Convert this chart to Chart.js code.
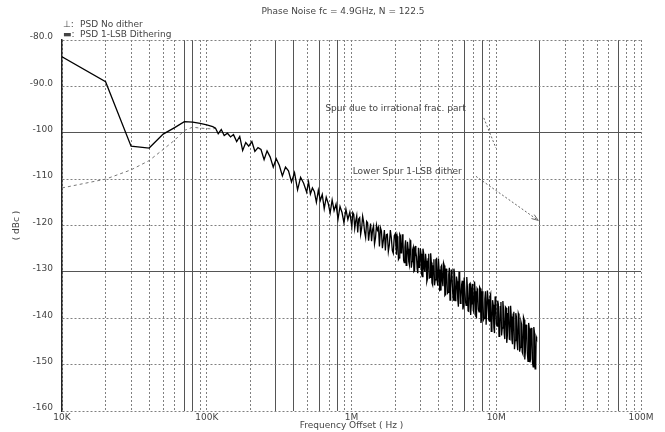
<!DOCTYPE html>
<html><head><meta charset="utf-8">
<script src="https://cdn.jsdelivr.net/npm/chart.js@4.4.1/dist/chart.umd.min.js"></script>
<style>html,body{margin:0;padding:0;background:#fff}#wrap{width:665px;height:432px;position:relative}</style>
</head><body><div id="wrap"><canvas id="c" width="665" height="432"></canvas></div>
<script>
const chartTitle = 'Phase Noise fc = 4.9GHz, N = 122.5';
const legendSymbols = ['\u22A5:', '\u25AC:'];
const legendLabels = ['PSD No dither', 'PSD 1-LSB Dithering'];
const xAxisTitle = 'Frequency Offset ( Hz )';
const yAxisTitle = '( dBc )';

const xTickValues = [10e3,20e3,30e3,40e3,50e3,60e3,70e3,80e3,90e3,
  100e3,200e3,300e3,400e3,500e3,600e3,700e3,800e3,900e3,
  1e6,2e6,3e6,4e6,5e6,6e6,7e6,8e6,9e6,
  10e6,20e6,30e6,40e6,50e6,60e6,70e6,80e6,90e6,100e6];
const xLabelValues = [10e3, 100e3, 1e6, 10e6, 100e6];
const xLabelTexts = ['10K', '100K', '1M', '10M', '100M'];
const xSolidGrid = [70e3, 80e3, 300e3, 400e3, 600e3, 800e3, 6e6, 8e6, 20e6, 70e6];

const yTickValues = [-160,-150,-140,-130,-120,-110,-100,-90,-80];
const yTickLabels = ['-160','-150','-140','-130','-120','-110','-100','-90.0','-80.0'];
const ySolidGrid = [-100, -130];

// PSD No dither (kHz, dBc)
const noDitherFreqKHz = [10,20,30,40,50,60,70,80,90,100,110,115];
const noDitherDbc = [-111.9,-110.0,-108.0,-106.0,-103.6,-101.6,-99.5,-98.8,-99.0,-99.1,-99.2,-99.0];

// PSD 1-LSB Dithering (kHz, dBc)
const ditherFreqKHz = [
  10,20,30,40,50,60,70,80,90,100,110,
  115,120,126,132,139,146,153,161,169,177,
  186,195,205,215,226,237,249,261,274,288,
  302,317,333,350,367,385,404,424,445,467,490,
  505,520,537,554,572,590,609,628,648,669,
  690,712,735,758,782,807,833,860,887,915,
  944,974,
  1005,1021,1037,1053,1070,1087,1104,1121,1139,1157,
  1175,1194,1213,1232,1252,1272,1292,1312,1333,1354,
  1376,1398,1420,1442,1465,1488,1512,1536,1560,1585,
  1610,1635,1661,1687,1714,1741,1769,1797,1826,1855,
  1884,1914,1944,1975,
  2006,2027,2048,2069,2090,2111,2133,2155,2177,2199,
  2222,2245,2268,2291,2315,2339,2363,2387,2412,2437,
  2462,2487,2513,2539,2565,2591,2618,2645,2672,2699,
  2727,2755,2783,2812,2841,2870,2900,2930,2960,2990,
  3021,3052,3084,3116,3148,3180,3213,3246,3280,3314,
  3348,3382,3417,3452,3488,3524,3560,3597,3634,3671,
  3709,3747,3786,3825,3865,3905,3945,3986,4027,4068,
  4110,4152,4195,4238,4282,4326,4371,4416,4462,4508,
  4554,4601,4648,4696,4744,4793,4843,4893,4943,4994,
  5045,5097,5150,5203,5257,5311,5365,5420,5476,5533,
  5590,5648,5706,5765,5824,5884,5945,6006,6068,6131,
  6194,6258,6322,6387,6453,6520,6587,6655,6723,6793,
  6863,6934,7005,7077,7150,7224,7298,7373,7449,7526,
  7604,7682,7761,7841,7922,8004,8086,8170,8254,8339,
  8425,8512,8599,8688,8777,8868,8959,9052,9145,9239,
  9334,9431,9528,9626,9725,9825,9926,10029,10132,10237,
  10342,10449,10556,10665,10775,10886,10998,11112,11226,11342,
  11458,11576,11695,11816,11938,12061,12185,12311,12437,12566,
  12695,12826,12958,13092,13226,13363,13500,13640,13780,13922,
  14065,14211,14357,14505,14654,14806,14958,15113,15268,15426,
  15584,15745,15907,16071,16236,16404,16573,16744,16916,17091,
  17266,17445,17624,17806,17989,18175,18362,18552,18742,18870,
  19000
];
const ditherDbc = [
  -83.6,-89.0,-102.9,-103.3,-100.3,-98.9,-97.6,-97.7,-98.0,-98.3,-98.7,
  -99.0,-100.2,-99.3,-100.6,-100.1,-100.9,-100.4,-101.9,-100.8,-103.8,
  -102.1,-102.9,-101.9,-104.0,-103.2,-103.6,-105.8,-103.9,-105.2,-107.4,
  -105.6,-107.0,-109.3,-107.4,-108.2,-110.6,-108.6,-112.3,-109.6,-110.9,-112.8,
  -110.6,-113.2,-111.9,-112.7,-115.0,-112.4,-114.6,-113.3,-116.4,-113.9,
  -115.2,-117.3,-114.5,-116.8,-115.4,-118.6,-115.9,-117.2,-119.4,-116.5,
  -118.7,-117.1,
  -120.3,-117.2,-117.6,-120.6,-119.0,-117.9,-121.5,-118.6,-118.3,-121.9,
  -120.6,-118.0,-119.2,-121.4,-122.6,-119.1,-119.4,-123.3,-121.3,-119.6,
  -123.4,-120.9,-120.1,-124.0,-122.7,-119.9,-121.0,-120.4,-124.5,-120.5,
  -121.2,-124.9,-123.1,-121.0,-125.4,-122.0,-121.9,-125.6,-124.2,-121.0,
  -122.6,-125.4,-126.0,-122.2,
  -121.8,-124.4,-126.3,-122.3,-123.0,-127.3,-127.0,-121.9,-122.2,-125.9,
  -125.8,-121.9,-123.4,-127.5,-128.0,-124.7,-123.2,-128.6,-127.4,-123.5,
  -125.0,-127.8,-128.5,-123.2,-123.5,-129.1,-127.8,-125.2,-124.7,-129.9,
  -129.7,-124.4,-125.7,-126.7,-129.3,-130.3,-124.8,-129.0,-128.5,-124.9,
  -126.1,-130.5,-131.0,-125.0,-125.9,-129.3,-130.0,-126.1,-127.6,-132.1,
  -131.5,-127.2,-126.1,-131.3,-131.2,-126.0,-128.0,-132.4,-132.8,-128.7,
  -127.3,-132.9,-131.7,-127.4,-127.2,-131.9,-133.0,-127.1,-129.5,-134.0,
  -133.9,-128.9,-128.6,-131.9,-133.1,-128.1,-128.6,-135.1,-134.9,-129.3,
  -130.3,-134.6,-134.4,-130.6,-129.1,-136.1,-133.6,-129.5,-130.6,-134.1,
  -136.1,-129.3,-130.3,-136.2,-135.3,-131.0,-132.0,-135.9,-137.5,-130.0,
  -130.8,-136.8,-135.7,-132.8,-131.9,-138.1,-137.3,-131.2,-131.2,-136.4,
  -137.2,-131.1,-133.3,-138.4,-138.5,-132.7,-132.5,-139.3,-136.9,-133.6,
  -132.6,-138.3,-138.7,-132.1,-134.2,-139.6,-139.8,-133.6,-133.9,-138.1,
  -138.6,-133.3,-133.6,-141.0,-140.1,-134.2,-135.8,-140.3,-140.0,-135.9,
  -134.2,-141.4,-141.4,-134.0,-135.9,-140.3,-140.6,-135.3,-134.8,-142.8,
  -141.6,-136.1,-137.1,-142.0,-143.2,-135.3,-136.1,-141.3,-141.7,-136.2,
  -137.0,-143.9,-143.5,-137.5,-136.5,-143.7,-142.1,-136.3,-138.2,-143.2,
  -144.5,-137.6,-137.8,-145.3,-143.7,-139.0,-137.4,-144.5,-144.6,-137.3,
  -139.6,-144.6,-145.6,-139.1,-138.6,-146.7,-144.8,-138.9,-139.7,-145.1,
  -146.9,-139.0,-139.5,-147.2,-146.3,-140.7,-141.3,-147.3,-147.7,-139.8,
  -140.3,-148.9,-147.0,-141.5,-141.4,-147.6,-149.3,-141.0,-142.2,-149.5,
  -148.8,-142.2,-142.1,-149.6,-150.5,-141.9,-143.0,-150.9,-150.2,-144.0,
  -144.3
];

// Annotations (data coordinates)
const noteTexts = ['Spur due to irrational frac. part', 'Lower Spur 1-LSB dither'];
const noteFreq = [660e3, 1.02e6];
const noteDbc = [-94.9, -108.3];
const arrowFrom = [[8.2e6, -96.8], [7.24e6, -109.4]];
const arrowTo = [[9.95e6, -103.3], [19.5e6, -118.9]];
const arrowHead = [false, true];

const FONT = '"DejaVu Sans", sans-serif';
const TXT = '#444';

const toPts = (fk, v) => fk.map((f, i) => ({x: f * 1000, y: v[i]}));

const decor = {
  id: 'decor',
  afterDatasetsDraw(chart) {
    const ctx = chart.ctx, x = chart.scales.x, y = chart.scales.y;
    ctx.save();
    ctx.font = '9px ' + FONT;
    ctx.fillStyle = TXT;
    ctx.textBaseline = 'middle';
    ctx.textAlign = 'left';
    noteTexts.forEach((t, i) => ctx.fillText(t, x.getPixelForValue(noteFreq[i]), y.getPixelForValue(noteDbc[i])));
    ctx.strokeStyle = '#666';
    ctx.lineWidth = 1;
    arrowFrom.forEach((a, i) => {
      const x0 = x.getPixelForValue(a[0]), y0 = y.getPixelForValue(a[1]);
      const x1 = x.getPixelForValue(arrowTo[i][0]), y1 = y.getPixelForValue(arrowTo[i][1]);
      ctx.setLineDash([2, 2]);
      ctx.beginPath(); ctx.moveTo(x0, y0); ctx.lineTo(x1, y1); ctx.stroke();
      if (arrowHead[i]) {
        ctx.setLineDash([]);
        const ang = Math.atan2(y1 - y0, x1 - x0), L = 7, w = 0.35;
        ctx.beginPath();
        ctx.moveTo(x1 - L * Math.cos(ang - w), y1 - L * Math.sin(ang - w));
        ctx.lineTo(x1, y1);
        ctx.lineTo(x1 - L * Math.cos(ang + w), y1 - L * Math.sin(ang + w));
        ctx.stroke();
      }
    });
    ctx.restore();
  },
  afterDraw(chart) {
    const ctx = chart.ctx, a = chart.chartArea;
    ctx.save();
    ctx.font = '9px ' + FONT;
    ctx.fillStyle = TXT;
    ctx.textBaseline = 'middle';
    ctx.textAlign = 'center';
    ctx.fillText(chartTitle, 343, 12);
    ctx.textAlign = 'left';
    legendLabels.forEach((t, i) => {
      ctx.fillText(legendSymbols[i], a.left + 1, 25 + i * 9.5);
      ctx.fillText(t, a.left + 18, 25 + i * 9.5);
    });
    ctx.restore();
  }
};

new Chart(document.getElementById('c'), {
  type: 'line',
  data: {
    datasets: [
      { label: legendLabels[0], data: toPts(noDitherFreqKHz, noDitherDbc), borderColor: '#777', borderWidth: 1, borderDash: [3, 3], pointRadius: 0, tension: 0, order: 2 },
      { label: legendLabels[1], data: toPts(ditherFreqKHz, ditherDbc), borderColor: '#000', borderWidth: 1.3, pointRadius: 0, tension: 0, order: 1 }
    ]
  },
  options: {
    responsive: false,
    animation: false,
    layout: { padding: { top: 40, right: 24, left: 0, bottom: 0 } },
    plugins: { legend: { display: false }, tooltip: { enabled: false }, title: { display: false } },
    scales: {
      x: {
        type: 'logarithmic', min: 1e4, max: 1e8, position: 'bottom',
        afterBuildTicks: s => { s.ticks = xTickValues.map(v => ({ value: v })); },
        afterFit: s => { s.height = 21; },
        ticks: { autoSkip: false, maxRotation: 0, padding: 1, color: TXT, font: { family: FONT, size: 9 },
          callback: v => { const k = xLabelValues.indexOf(v); return k >= 0 ? xLabelTexts[k] : ''; } },
        grid: { color: '#808080', lineWidth: 1, drawTicks: false },
        border: { display: false, dash: [2, 2] },
        title: { display: true, text: xAxisTitle, color: TXT, font: { family: FONT, size: 9 }, padding: { top: 0, bottom: 1 } }
      },
      x2: {
        type: 'logarithmic', min: 1e4, max: 1e8, position: 'top',
        afterBuildTicks: s => { s.ticks = xSolidGrid.map(v => ({ value: v })); },
        afterFit: s => { s.height = 0; },
        ticks: { display: false },
        grid: { color: '#555', lineWidth: 1, drawTicks: false },
        border: { display: false }
      },
      y: {
        type: 'linear', min: -160, max: -80, position: 'left', weight: 0,
        afterBuildTicks: s => { s.ticks = yTickValues.map(v => ({ value: v })); },
        afterFit: s => { s.width = 62; },
        ticks: { padding: 9, labelOffset: -3, color: TXT, font: { family: FONT, size: 9 },
          callback: v => { const k = yTickValues.indexOf(v); return k >= 0 ? yTickLabels[k] : ''; } },
        grid: { color: '#808080', lineWidth: 1, drawTicks: false },
        border: { display: true, color: '#222', width: 1.5, dash: [2, 2] },
        title: { display: true, text: yAxisTitle, color: TXT, font: { family: FONT, size: 9 }, padding: { top: 11, bottom: 0 } }
      },
      y2: {
        type: 'linear', min: -160, max: -80, position: 'left', weight: 5,
        afterBuildTicks: s => { s.ticks = ySolidGrid.map(v => ({ value: v })); },
        afterFit: s => { s.width = 0; },
        ticks: { display: false },
        grid: { color: '#555', lineWidth: 1, drawTicks: false },
        border: { display: false }
      }
    }
  },
  plugins: [decor]
});
</script></body></html>
